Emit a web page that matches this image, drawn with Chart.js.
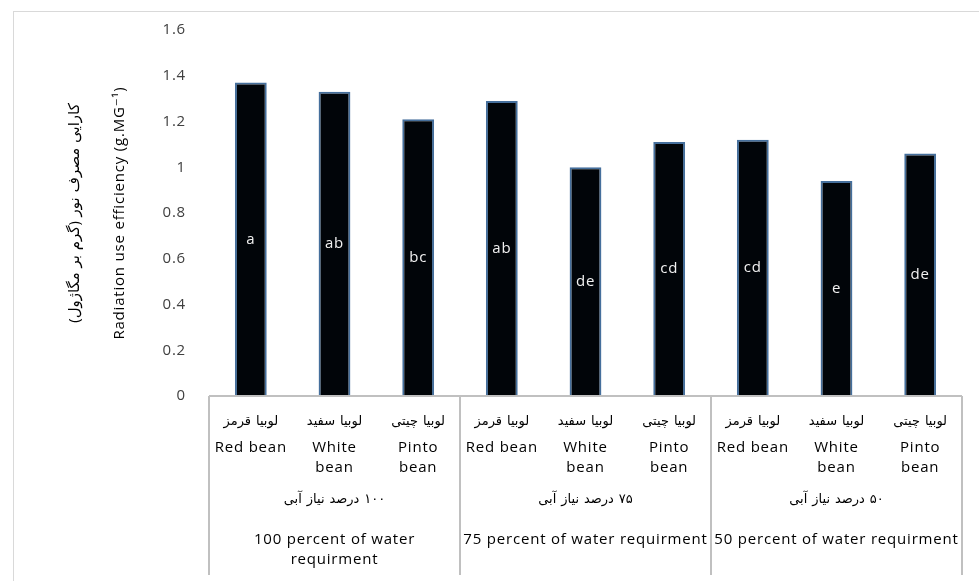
<!DOCTYPE html>
<html>
<head>
<meta charset="utf-8">
<script src="https://cdn.jsdelivr.net/npm/chart.js@4"></script>
<style>
html, body { margin: 0; padding: 0; background: #fff; }
#wrap { position: relative; width: 979px; height: 581px; }
#frame { position: absolute; left: 13px; top: 11px; right: 0; bottom: 0; border-left: 1px solid #d9d9d9; border-top: 1px solid #d9d9d9; }
canvas { position: absolute; left: 0; top: 0; }
</style>
</head>
<body>
<div id="wrap"><div id="frame"></div><canvas id="rue_chart" width="979" height="581"></canvas></div>
<script>
// keep persian strings right-to-left inside an ltr canvas
var rtl = function (s) { return '\u200F' + s + '\u200F'; };

var beansFa = ['لوبیا قرمز', 'لوبیا سفید', 'لوبیا چیتی',
               'لوبیا قرمز', 'لوبیا سفید', 'لوبیا چیتی',
               'لوبیا قرمز', 'لوبیا سفید', 'لوبیا چیتی'];
var beansEn = [['Red bean'], ['White', 'bean'], ['Pinto', 'bean'],
               ['Red bean'], ['White', 'bean'], ['Pinto', 'bean'],
               ['Red bean'], ['White', 'bean'], ['Pinto', 'bean']];
var groupsFa = ['۱۰۰ درصد نیاز آبی', '۷۵ درصد نیاز آبی', '۵۰ درصد نیاز آبی'];
var groupsEn = [['100 percent of water', 'requirment'],
                '75 percent of water requirment',
                '50 percent of water requirment'];
var rueValues = [1.37, 1.33, 1.21, 1.29, 1.00, 1.11, 1.12, 0.94, 1.06];
var letters = ['a', 'ab', 'bc', 'ab', 'de', 'cd', 'cd', 'e', 'de'];
var yTitleFa = 'کارایی مصرف نور (گرم بر مگاژول)';
var yTitleEn = 'Radiation use efficiency (g.MG⁻¹)';

var enFont = '"Open Sans", "DejaVu Sans", sans-serif';
var faFont = '"DejaVu Sans", "Open Sans", sans-serif';

// the original text is set a little loose
var spacingPlugin = {
    id: 'spacing',
    beforeDraw: function (chart) {
        chart.ctx.letterSpacing = '0.8px';
    }
};

var letterPlugin = {
    id: 'letters',
    afterDatasetsDraw: function (chart) {
        var ctx = chart.ctx;
        var meta = chart.getDatasetMeta(0);
        ctx.save();
        ctx.fillStyle = '#f2f2f2';
        ctx.font = '15px ' + enFont;
        ctx.textAlign = 'center';
        ctx.textBaseline = 'middle';
        meta.data.forEach(function (bar, i) {
            ctx.fillText(letters[i], bar.x, (bar.y + bar.base) / 2);
        });
        ctx.restore();
    }
};

var tablePlugin = {
    id: 'table',
    afterDraw: function (chart) {
        var ctx = chart.ctx;
        var x = chart.scales.x;
        var bottom = chart.scales.x4.bottom;
        var cuts = [x.left,
            (x.getPixelForValue(2) + x.getPixelForValue(3)) / 2,
            (x.getPixelForValue(5) + x.getPixelForValue(6)) / 2,
            x.right];
        ctx.save();
        ctx.strokeStyle = '#c0c0c0';
        ctx.lineWidth = 2;
        ctx.beginPath();
        ctx.moveTo(x.left, x.top);
        ctx.lineTo(x.right, x.top);
        cuts.forEach(function (c) {
            ctx.moveTo(c, x.top);
            ctx.lineTo(c, bottom);
        });
        ctx.stroke();
        ctx.restore();
    }
};

function fixHeight(h) {
    return function (scale) { scale.height = h; };
}

var ctx = document.getElementById('rue_chart');

var chart = new Chart(ctx, {
    type: 'bar',
    data: {
        labels: beansFa.map(rtl),
        datasets: [{
            data: rueValues,
            backgroundColor: '#010509',
            borderColor: '#456f9c',
            borderWidth: 2,
            categoryPercentage: 1,
            barPercentage: 0.38
        }]
    },
    options: {
        responsive: false,
        devicePixelRatio: 1,
        animation: false,
        layout: { padding: { top: 30, right: 17, bottom: 6, left: 0 } },
        plugins: { legend: { display: false }, tooltip: { enabled: false } },
        scales: {
            y: {
                min: 0,
                max: 1.6,
                grid: { display: false },
                border: { display: false },
                ticks: {
                    stepSize: 0.2,
                    padding: 15,
                    color: '#404040',
                    font: { family: enFont, size: 15 },
                    callback: function (v) { return String(Math.round(v * 10) / 10); }
                },
                title: {
                    display: true,
                    text: [rtl(yTitleFa), yTitleEn],
                    color: '#000',
                    font: { family: enFont, size: 15, lineHeight: '45px' },
                    padding: { top: 52, bottom: 0 }
                },
                afterFit: function (scale) { scale.width = 209; }
            },
            x: {
                weight: 0,
                grid: { display: false, drawTicks: false },
                border: { display: false },
                ticks: { autoSkip: false, maxRotation: 0, padding: 18, color: '#000', font: { family: faFont, size: 13 } },
                afterFit: fixHeight(40)
            },
            x2: {
                type: 'category',
                position: 'bottom',
                weight: 1,
                offset: true,
                labels: beansEn,
                grid: { display: false, drawTicks: false },
                border: { display: false },
                ticks: { autoSkip: false, maxRotation: 0, padding: 2, color: '#000', font: { family: enFont, size: 15, lineHeight: '20px' } },
                afterFit: fixHeight(44)
            },
            x3: {
                type: 'category',
                position: 'bottom',
                weight: 2,
                offset: true,
                labels: groupsFa.map(rtl),
                grid: { display: false, drawTicks: false },
                border: { display: false },
                ticks: { autoSkip: false, maxRotation: 0, padding: 12, color: '#000', font: { family: faFont, size: 13 } },
                afterFit: fixHeight(40)
            },
            x4: {
                type: 'category',
                position: 'bottom',
                weight: 3,
                offset: true,
                labels: groupsEn,
                grid: { display: false, drawTicks: false },
                border: { display: false },
                ticks: { autoSkip: false, maxRotation: 0, padding: 10, color: '#000', font: { family: enFont, size: 15, lineHeight: '20px' } },
                afterFit: fixHeight(55)
            }
        }
    },
    plugins: [spacingPlugin, letterPlugin, tablePlugin]
});
</script>
</body>
</html>
